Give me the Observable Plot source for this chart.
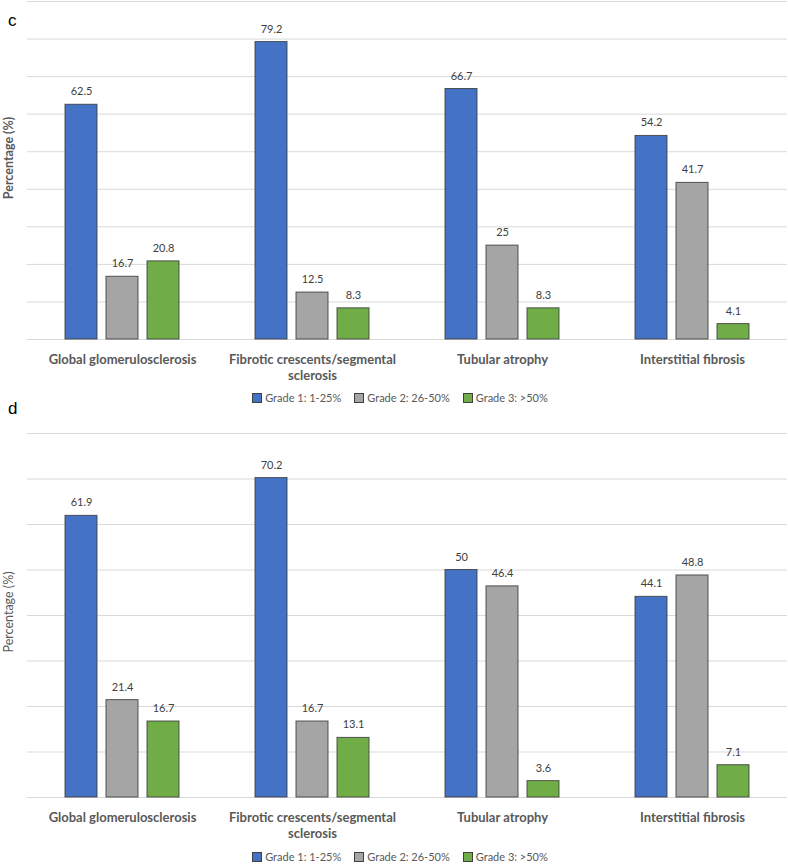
<!DOCTYPE html>
<html>
<head>
<meta charset="utf-8">
<script src="https://cdn.jsdelivr.net/npm/d3@7"></script>
<script src="https://cdn.jsdelivr.net/npm/@observablehq/plot@0.6"></script>
<style>
  body { margin: 0; background: #fff; font-family: Lato, "Open Sans", sans-serif; }
  #root { position: relative; width: 788px; height: 866px; overflow: hidden; }
  .abs { position: absolute; }
  .panel { font-family: "Liberation Sans", Arial, sans-serif; font-size: 17px; color: #000; }
  .ylab { font-size: 12.5px; color: #595959; transform: rotate(-90deg); transform-origin: center; white-space: nowrap; text-align: center; width: 120px; line-height: 16px; }
  .ylab.bold { font-weight: bold; }
  .legend { display: flex; justify-content: center; gap: 13px; font-size: 11px; color: #595959; width: 788px; }
  .legend span { display: inline-flex; align-items: center; }
  .legend i { display: inline-block; width: 8px; height: 8px; border: 1px solid #404040; margin-right: 3px; }
</style>
</head>
<body>
<div id="root"></div>
<script>
const categories = ["Global glomerulosclerosis", "Fibrotic crescents/segmental sclerosis", "Tubular atrophy", "Interstitial fibrosis"];
const grades = ["Grade 1: 1-25%", "Grade 2: 26-50%", "Grade 3: >50%"];
const colors = ["#4472C4", "#A5A5A5", "#70AD47"];

// Panel c
const cGrade1 = [62.5, 79.2, 66.7, 54.2];
const cGrade2 = [16.7, 12.5, 25, 41.7];
const cGrade3 = [20.8, 8.3, 8.3, 4.1];
// Panel d
const dGrade1 = [61.9, 70.2, 50, 44.1];
const dGrade2 = [21.4, 16.7, 46.4, 48.8];
const dGrade3 = [16.7, 13.1, 3.6, 7.1];

function table(series) {
  const rows = [];
  categories.forEach((c, i) => {
    series.forEach((s, j) => rows.push({category: c, grade: grades[j], value: s[i]}));
  });
  return rows;
}

function chart(data, ymax, height, marginTop, marginBottom) {
  return Plot.plot({
    width: 788,
    height,
    marginLeft: 26,
    marginRight: 0,
    marginTop,
    marginBottom,
    style: {fontFamily: "Lato, 'Open Sans', sans-serif", background: "#fff"},
    fx: {domain: categories, paddingInner: 0, paddingOuter: 0, label: null},
    x: {domain: grades, paddingInner: 0.214, paddingOuter: 0.87, axis: null},
    y: {domain: [0, ymax], axis: null},
    color: {domain: grades, range: colors},
    marks: [
      Plot.gridY({interval: 10, stroke: "#d9d9d9", strokeOpacity: 1, strokeWidth: 1}),
      Plot.ruleY([0], {stroke: "#d9d9d9", strokeWidth: 1}),
      Plot.barY(data, {fx: "category", x: "grade", y: "value", fill: "grade", stroke: "#3c3c3c", strokeWidth: 1, strokeOpacity: 0.85}),
      Plot.text(data, {fx: "category", x: "grade", y: "value", text: d => String(d.value), dy: -13, fontSize: 11, fill: "#404040"}),
      Plot.axisFx({anchor: "bottom", label: null, tickSize: 0, tickPadding: 12, fontSize: 13, fontWeight: "bold", fill: "#595959", lineWidth: 17, lineHeight: 1.3})
    ]
  });
}

function legend() {
  const div = document.createElement("div");
  div.className = "legend";
  grades.forEach((g, i) => {
    const s = document.createElement("span");
    const sw = document.createElement("i");
    sw.style.background = colors[i];
    s.appendChild(sw);
    s.appendChild(document.createTextNode(g));
    div.appendChild(s);
  });
  return div;
}

function place(el, left, top) {
  el.classList.add("abs");
  el.style.left = left + "px";
  el.style.top = top + "px";
  document.getElementById("root").appendChild(el);
  return el;
}

function label(text, cls) {
  const d = document.createElement("div");
  d.className = cls;
  d.textContent = text;
  return d;
}

// Panel c
place(chart(table([cGrade1, cGrade2, cGrade3]), 90, 390, 1, 51), 0, 0);
place(legend(), 6, 391);
place(label("c", "panel"), 8, 11);
place(label("Percentage (%)", "ylab bold"), -51, 150);

// Panel d
place(chart(table([dGrade1, dGrade2, dGrade3]), 80, 436, 23, 49), 0, 410);
place(legend(), 6, 850);
place(label("d", "panel"), 8, 399);
place(label("Percentage (%)", "ylab"), -51, 604);
</script>
</body>
</html>
